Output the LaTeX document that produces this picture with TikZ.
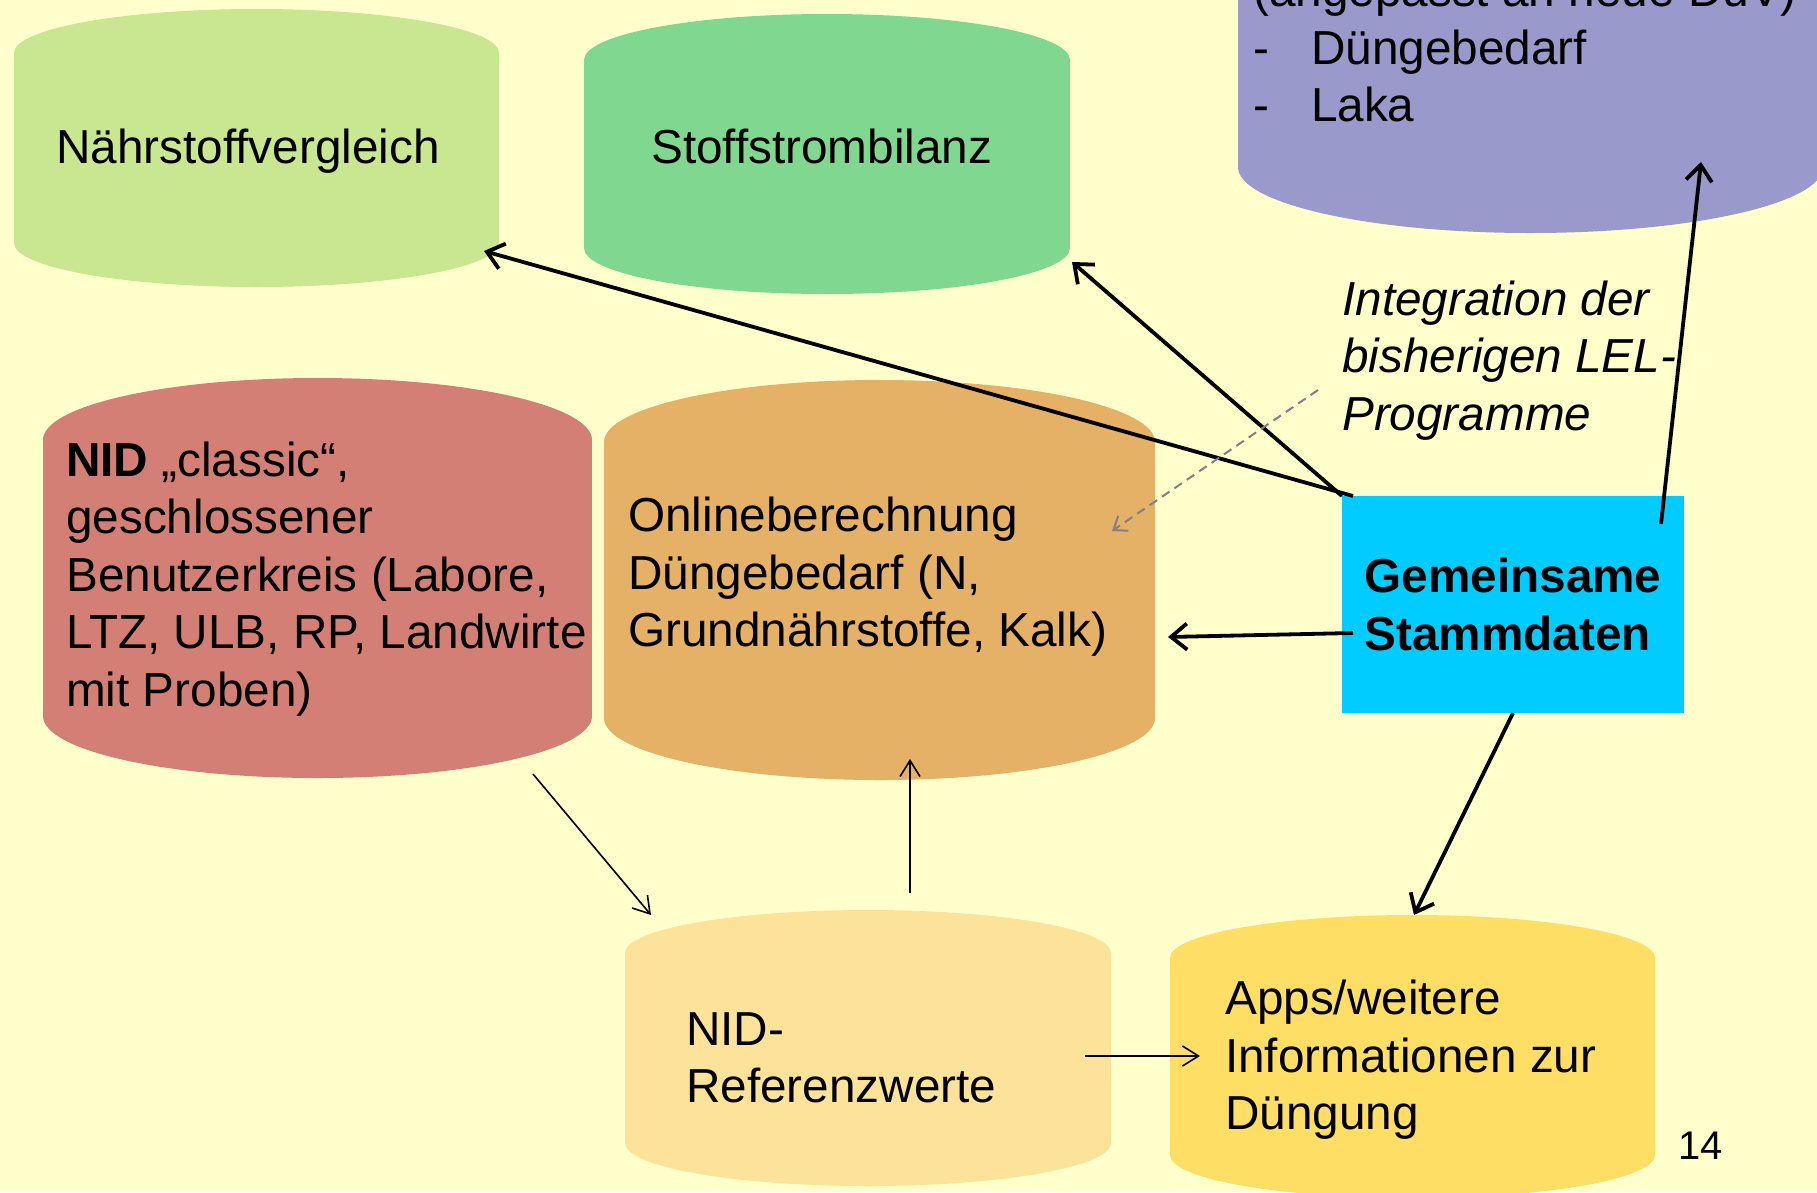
\documentclass[tikz,border=0pt]{standalone}
\usepackage{fontspec}
\setmainfont{Liberation Sans}
\usetikzlibrary{arrows.meta}
\definecolor{bgyellow}{RGB}{255,255,204}
\definecolor{lightgreen}{RGB}{201,230,145}
\definecolor{midgreen}{RGB}{128,216,144}
\definecolor{lilac}{RGB}{153,153,204}
\definecolor{rosered}{RGB}{212,127,117}
\definecolor{ochre}{RGB}{228,177,102}
\definecolor{skycyan}{RGB}{0,204,255}
\definecolor{paleyellow}{RGB}{253,226,153}
\definecolor{sunyellow}{RGB}{255,222,102}
\definecolor{dashgray}{RGB}{128,128,140}
\tikzset{
  txt/.style={anchor=west, inner sep=0pt, align=left, font=\fontsize{47.7}{57.5}\selectfont},
  fatarrow/.style={line width=3.8pt, -{Straight Barb[length=16pt,width=26pt]}},
  thinarrow/.style={line width=1.6pt, -{Straight Barb[length=16pt,width=20pt]}},
  dasharrow/.style={line width=2pt, dash pattern=on 9pt off 6pt, draw=dashgray, -{Straight Barb[length=12pt,width=18pt]}}
}
% can: name, colour, centre, width, height, cap radius
\newcommand{\tonne}[6]{%
  \node[inner sep=0pt, outer sep=0pt, minimum width=#4pt, minimum height=#5pt] (#1) at #3 {};
  \fill[#2] (#1.north west) ++(0,#6) rectangle ++(#4,#5-2*#6);
  \fill[#2] (#1.north) ++(0,#6) ellipse [x radius=#4/2, y radius=#6];
  \fill[#2] (#1.south) ++(0,-#6) ellipse [x radius=#4/2, y radius=#6];
}
\begin{document}
\begin{tikzpicture}[x=1pt,y=1pt,yscale=-1]
\fill[bgyellow] (0,0) rectangle (1817,1192);
\useasboundingbox (0,0) rectangle (1817,1192);

% Cylinders
\tonne{naehr}{lightgreen}{(256.5,148)}{485}{278}{44}
\tonne{stoff}{midgreen}{(827,154)}{486}{280}{46}
\tonne{duev}{lilac}{(1530.5,16.5)}{585}{433}{66}
\tonne{nid}{rosered}{(317.5,578)}{549}{400}{62}
\tonne{online}{ochre}{(879.5,580)}{551}{400}{62}
\tonne{ref}{paleyellow}{(868,1048)}{486}{276}{43}
\tonne{apps}{sunyellow}{(1412.5,1056.5)}{485}{283}{43}
% Box
\node[fill=skycyan, minimum width=342pt, minimum height=217pt, inner sep=0pt, outer sep=0pt,
  align=left, font=\fontsize{47.7}{57.5}\selectfont\bfseries] (stamm) at (1513,604.5) {Gemeinsame\\Stammdaten};

% Text Nodes
\node[txt] (naehrtxt) at (56,151) {Nährstoffvergleich};
\node[txt] (stofftxt) at (651,146) {Stoffstrombilanz};
\node[txt] (duevtxt) at (1253,47) {(angepasst an neue DüV)\\-\hspace{42pt}Düngebedarf\\-\hspace{42pt}Laka};
\node[txt] (nidtxt) at (66,579) {\textbf{NID} „classic“,\\geschlossener\\Benutzerkreis (Labore,\\LTZ, ULB, RP, Landwirte\\mit Proben)};
\node[txt] (onlinetxt) at (628,577) {Onlineberechnung\\Düngebedarf (N,\\Grundnährstoffe, Kalk)};
\node[txt, font=\fontsize{47.7}{57.5}\selectfont\itshape] (inttxt) at (1342,360.5) {Integration der\\bisherigen LEL-\\Programme};
\node[txt] (reftxt) at (686,1058) {NID-\\Referenzwerte};
\node[txt] (appstxt) at (1225,1060) {Apps/weitere\\Informationen zur\\Düngung};
\node[txt, font=\fontsize{40}{48}\selectfont] (pagenum) at (1678,1146) {14};

% Arrow ends
\coordinate (naehrin) at (484,251);
\coordinate (stoffin) at (1072,262);
\coordinate (stammup) at (1661,524);
\coordinate (duevin) at (1701,162);
\coordinate (intout) at (1318,390);
\coordinate (onlinein) at (1112,531);
\coordinate (stammleft) at (1353,633);
\coordinate (onlineside) at (1168,637);
\coordinate (appsin) at (1414,915);
\coordinate (nidout) at (533,774);
\coordinate (refin) at (651,915);
\coordinate (refup) at (910,893);
\coordinate (onlinebot) at (910,759);
\coordinate (refside) at (1085,1056);
\coordinate (appsside) at (1200,1056);

% Connectors
\draw[fatarrow] ([xshift=11pt]stamm.north west) -- (naehrin);
\draw[fatarrow] (stamm.north west) -- (stoffin);
\draw[fatarrow] (stammup) -- (duevin);
\draw[dasharrow] (intout) -- (onlinein);
\draw[fatarrow] (stammleft) -- (onlineside);
\draw[fatarrow] (stamm.south) -- (appsin);
\draw[thinarrow] (nidout) -- (refin);
\draw[thinarrow] (refup) -- (onlinebot);
\draw[thinarrow] (refside) -- (appsside);
\end{tikzpicture}
\end{document}
